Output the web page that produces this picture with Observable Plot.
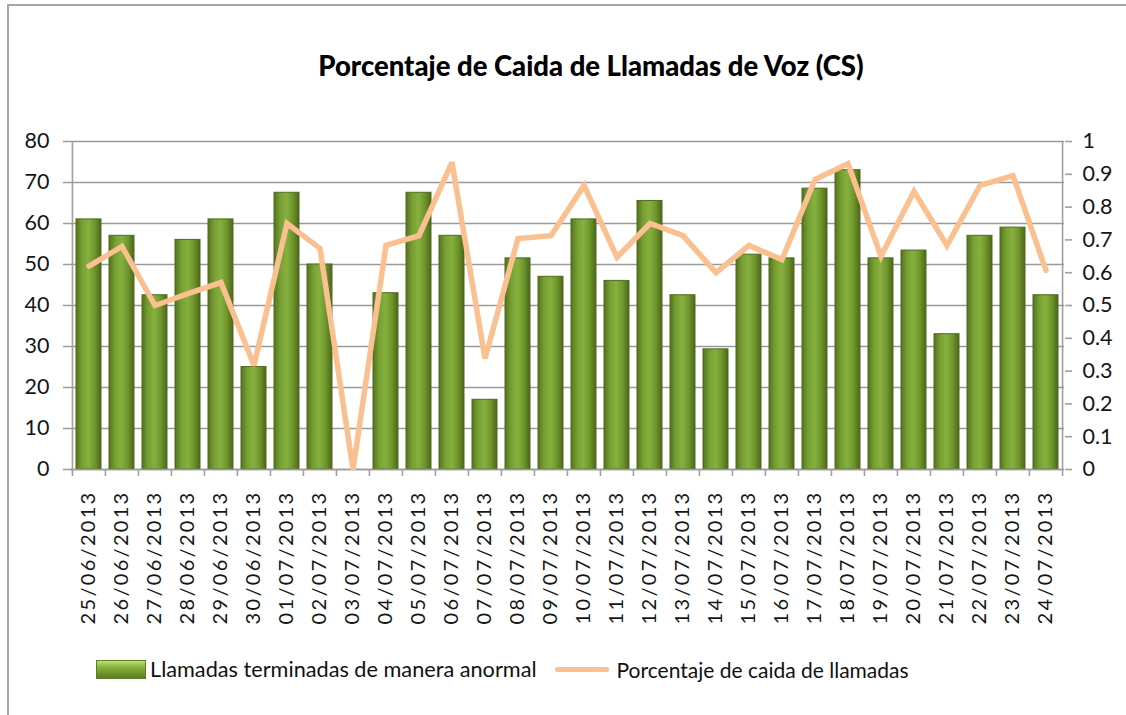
<!DOCTYPE html>
<html>
<head>
<meta charset="utf-8">
<script src="https://cdn.jsdelivr.net/npm/d3@7"></script>
<script src="https://cdn.jsdelivr.net/npm/@observablehq/plot@0.6"></script>
<style>
  html, body { margin: 0; padding: 0; background: #fff; }
  body { width: 1126px; height: 715px; position: relative; overflow: hidden; font-family: Lato, "Open Sans", sans-serif; }
  #frame { position: absolute; left: 7px; top: 4px; width: 1200px; height: 800px; border-top: 2px solid #a6a6a6; border-left: 2px solid #a6a6a6; }
  #title { position: absolute; left: 56px; width: 1070px; top: 49px; text-align: center; font-weight: 900; font-size: 27.5px; color: #000; }
  #chart { position: absolute; left: 0; top: 0; }
  #legend { position: absolute; top: 656px; left: 96px; font-size: 21.7px; color: #111; display: flex; align-items: center; }
  .sw-bar { width: 50px; height: 19px; background: linear-gradient(to bottom, #c3e27a 0%, #8fb845 30%, #76a032 60%, #5b7d22 100%); border: 1px solid #5f7d27; box-sizing: border-box; margin-right: 4px; }
  .sw-line { width: 54px; height: 5px; background: #fac090; border-radius: 2px; margin: 0 8px 0 18px; }
  #t2 { font-size: 21px; }
</style>
</head>
<body>
<div id="frame"></div>
<div id="title">Porcentaje de Caida de Llamadas de Voz (CS)</div>
<div id="chart"></div>
<div id="legend">
  <span class="sw-bar"></span><span>Llamadas terminadas de manera anormal</span>
  <span class="sw-line"></span><span id="t2">Porcentaje de caida de llamadas</span>
</div>
<script>
const dates = ["25/06/2013","26/06/2013","27/06/2013","28/06/2013","29/06/2013","30/06/2013",
  "01/07/2013","02/07/2013","03/07/2013","04/07/2013","05/07/2013","06/07/2013","07/07/2013",
  "08/07/2013","09/07/2013","10/07/2013","11/07/2013","12/07/2013","13/07/2013","14/07/2013",
  "15/07/2013","16/07/2013","17/07/2013","18/07/2013","19/07/2013","20/07/2013","21/07/2013",
  "22/07/2013","23/07/2013","24/07/2013"];
const llamadas = [61,57,42.5,56,61,25,67.5,50,0,43,67.5,57,17,51.5,47,61,46,65.5,42.5,29.3,
  52.4,51.5,68.5,73,51.5,53.4,33,57,59,42.5];
const porcentaje = [0.62,0.68,0.50,0.536,0.57,0.317,0.75,0.674,0,0.683,0.713,0.936,0.338,0.704,
  0.713,0.866,0.647,0.75,0.713,0.60,0.683,0.64,0.884,0.933,0.65,0.848,0.683,0.866,0.896,0.607];
const leftTicks = [0,10,20,30,40,50,60,70,80];
const rightTicks = [0,0.1,0.2,0.3,0.4,0.5,0.6,0.7,0.8,0.9,1];

const data = dates.map((d, i) => ({date: d, count: llamadas[i], pct: porcentaje[i]}));
const W = 1126, H = 640, ML = 70, MR = 62, MT = 141, MB = 171;
const step = (W - ML - MR) / dates.length;
const fmt = d3.format("~g");
const txt = {fontSize: 21.5, fill: "#151515"};

const plot = Plot.plot({
  width: W, height: H,
  marginLeft: ML, marginRight: MR, marginTop: MT, marginBottom: MB,
  style: {fontFamily: "Lato, 'Open Sans', sans-serif", background: "transparent", overflow: "visible"},
  x: {domain: dates, paddingInner: 0.23, paddingOuter: 0.115, label: null},
  y: {domain: [0, 80], label: null},
  marks: [
    Plot.gridY(leftTicks, {stroke: "#9a9a9a", strokeOpacity: 1, strokeWidth: 1.6}),
    Plot.barY(data, {x: "date", y: "count", fill: "url(#barGrad)", stroke: "#4f6b1c", strokeWidth: 1}),
    Plot.tickY(data.filter(d => d.count > 0), {x: "date", y: "count", stroke: "url(#capGrad)", strokeWidth: 7, dy: 4, inset: 1.5}),
    Plot.ruleY([0], {stroke: "#9a9a9a", strokeWidth: 1.6}),
    Plot.ruleX([dates[0]], {y1: 0, y2: 80, stroke: "#a0a0a0", strokeWidth: 1.6, dx: -step / 2}),
    Plot.ruleX([dates[dates.length - 1]], {y1: 0, y2: 80, stroke: "#a0a0a0", strokeWidth: 1.6, dx: step / 2}),
    Plot.line(data, {x: "date", y: d => d.pct * 80, stroke: "#fac090", strokeWidth: 5.5, strokeLinejoin: "miter", strokeMiterlimit: 3}),
    Plot.axisY(leftTicks, {anchor: "left", tickSize: 7, tickPadding: 14, stroke: "#a0a0a0", strokeWidth: 1.6, ...txt, label: null}),
    Plot.axisY(rightTicks.map(v => v * 80), {anchor: "right", tickSize: 7, tickPadding: 11, stroke: "#a0a0a0", strokeWidth: 1.6, tickFormat: d => fmt(d / 80), ...txt, label: null}),
    Plot.axisX({tickSize: 7, tickFormat: () => "", dx: -step / 2, stroke: "#a0a0a0", strokeWidth: 1.6, label: null}),
    Plot.axisX([dates[dates.length - 1]], {tickSize: 7, tickFormat: () => "", dx: step / 2, stroke: "#a0a0a0", strokeWidth: 1.6, label: null}),
    Plot.axisX({tickSize: 0, tickRotate: -90, tickPadding: 21, ...txt, fontSize: 20, label: null})
  ]
});

const defs = d3.select(plot).insert("defs", ":first-child");
const g1 = defs.append("linearGradient").attr("id", "barGrad").attr("x1", "0").attr("x2", "1").attr("y1", "0").attr("y2", "0");
[["0%", "#557320"], ["25%", "#76a032"], ["50%", "#86b03e"], ["75%", "#6f962c"], ["100%", "#4c671b"]]
  .forEach(([o, c]) => g1.append("stop").attr("offset", o).attr("stop-color", c));
const g2 = defs.append("linearGradient").attr("id", "capGrad").attr("x1", "0").attr("x2", "1").attr("y1", "0").attr("y2", "0");
[["0%", "#8fbd45"], ["50%", "#c8ea80"], ["100%", "#8fbd45"]]
  .forEach(([o, c]) => g2.append("stop").attr("offset", o).attr("stop-color", c));
d3.select(plot).selectAll("[aria-label='x-axis tick label'] text").style("letter-spacing", "2.3px");

document.getElementById("chart").appendChild(plot);
</script>
</body>
</html>
